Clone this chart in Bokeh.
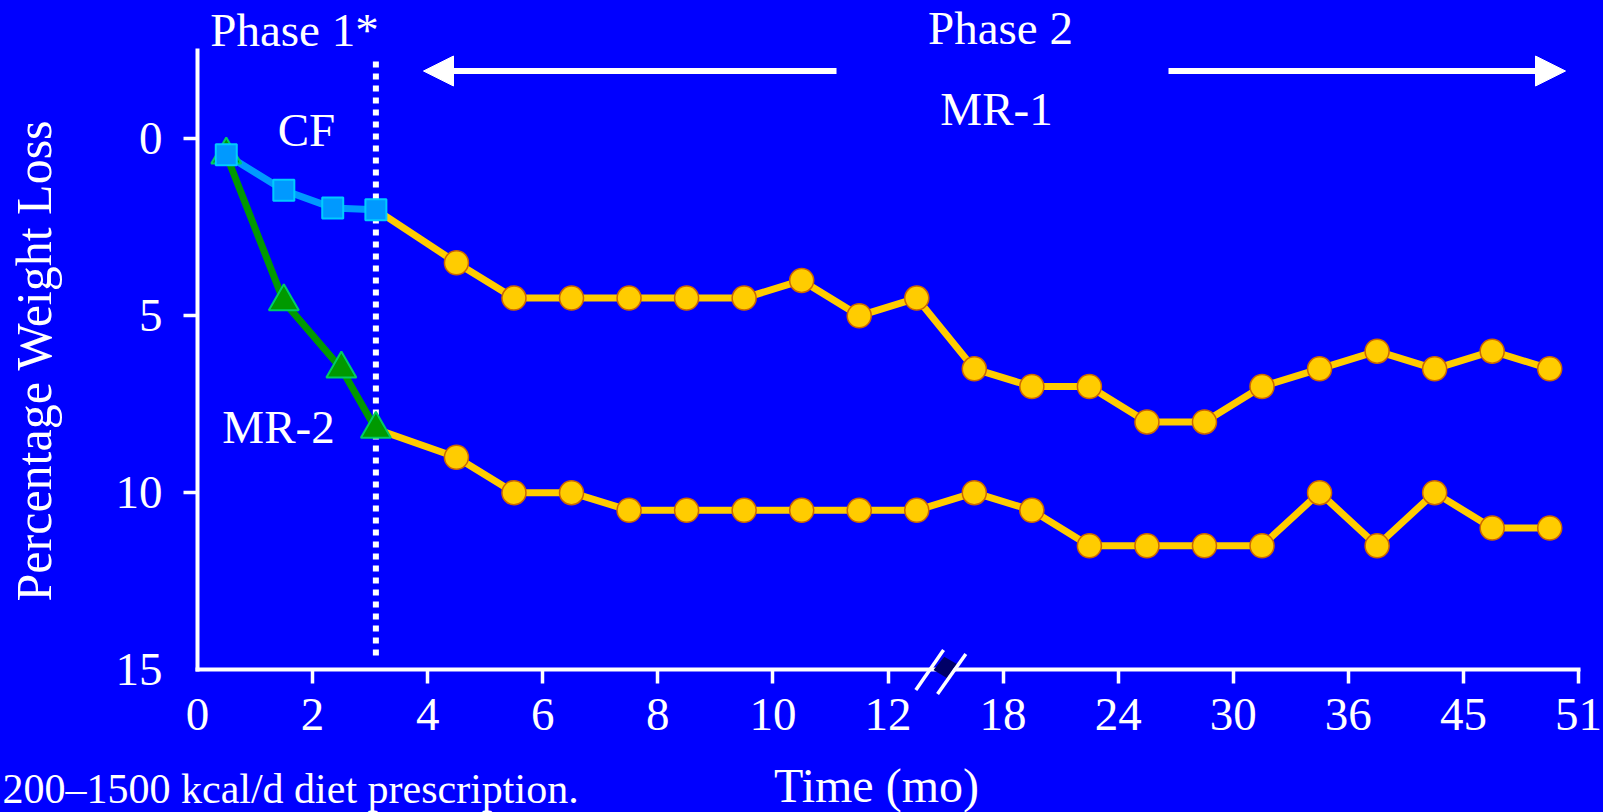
import math
from bokeh.plotting import figure
from bokeh.models import Range1d, FixedTicker, Label, Arrow, NormalHead, PolyAnnotation
from bokeh.embed import file_html
from bokeh.resources import INLINE

# ---------------- data ----------------
# x values are positions on the (broken) time axis
tick_positions = [0, 2, 4, 6, 8, 10, 12, 14, 16, 18, 20, 22, 24]
tick_labels = ["0", "2", "4", "6", "8", "10", "12", "18", "24", "30", "36", "45", "51"]
y_ticks = [0, 5, 10, 15]
y_tick_marks = [0, 5, 10]

cf_x = [0.5, 1.5, 2.35, 3.1]
cf_y = [0.45, 1.45, 1.95, 2.0]

mr2_p1_x = [0.5, 1.5, 2.5, 3.1]
mr2_p1_y = [0.45, 4.6, 6.5, 8.2]

phase2_x = [4.5, 5.5, 6.5, 7.5, 8.5, 9.5, 10.5, 11.5, 12.5, 13.5,
            14.5, 15.5, 16.5, 17.5, 18.5, 19.5, 20.5, 21.5, 22.5, 23.5]
mr1_p2_y = [3.5, 4.5, 4.5, 4.5, 4.5, 4.5, 4.0, 5.0, 4.5, 6.5,
            7.0, 7.0, 8.0, 8.0, 7.0, 6.5, 6.0, 6.5, 6.0, 6.5]
mr2_p2_y = [9.0, 10.0, 10.0, 10.5, 10.5, 10.5, 10.5, 10.5, 10.5, 10.0,
            10.5, 11.5, 11.5, 11.5, 11.5, 10.0, 11.5, 10.0, 11.0, 11.0]

axis_break = 13.0
phase_boundary = cf_x[-1]

# ---------------- layout helpers ----------------
BG = "#0000FF"
FONT = "Liberation Serif"
W, H = 1603, 812
X0, X1 = 0, 24            # data extent of the x axis
Y_TOP, Y_BOTTOM = -2.5, 15  # data extent of the y axis (inverted)
AX_LEFT, AX_RIGHT, AX_TOP, AX_BOTTOM = 197, 1578, 50, 669  # axis box in px
PX = (X1 - X0) / (AX_RIGHT - AX_LEFT)
PY = (Y_BOTTOM - Y_TOP) / (AX_BOTTOM - AX_TOP)


def dx(px):
    return X0 + (px - AX_LEFT) * PX


def dy(py):
    return Y_TOP + (py - AX_TOP) * PY


p = figure(width=W, height=H, output_backend="svg", toolbar_location=None,
           x_range=Range1d(dx(0), dx(W)), y_range=Range1d(dy(H), dy(0)),
           min_border=0)
p.background_fill_color = BG
p.border_fill_color = BG
p.outline_line_color = None
p.xgrid.visible = False
p.ygrid.visible = False

for ax in (p.xaxis[0], p.yaxis[0]):
    ax.axis_line_color = "white"
    ax.axis_line_width = 4
    ax.axis_line_cap = "square"
    ax.major_tick_in = 0
    ax.major_tick_out = 0
    ax.minor_tick_in = 0
    ax.minor_tick_out = 14
    ax.minor_tick_line_color = "white"
    ax.minor_tick_line_width = 3.5
    ax.major_label_text_color = "white"
    ax.major_label_text_font = FONT
    ax.major_label_text_font_size = "47px"

p.xaxis.fixed_location = Y_BOTTOM
p.xaxis.bounds = (X0, X1)
p.xaxis.ticker = FixedTicker(ticks=tick_positions, minor_ticks=tick_positions[1:])
p.xaxis.major_label_overrides = {t: l for t, l in zip(tick_positions, tick_labels)}
p.xaxis.major_label_standoff = 15

p.yaxis.fixed_location = X0
p.yaxis.bounds = (Y_TOP, Y_BOTTOM)
p.yaxis.ticker = FixedTicker(ticks=y_ticks, minor_ticks=y_tick_marks)
p.yaxis.major_label_standoff = 21

# phase boundary (dotted)
p.segment(x0=[phase_boundary], y0=[dy(61)], x1=[phase_boundary], y1=[dy(657)],
          line_color="white", line_width=6, line_dash="6 6", level="underlay")

# lines
p.line([cf_x[-1]] + phase2_x, [cf_y[-1]] + mr1_p2_y, line_color="#FFCC00", line_width=7)
p.line([mr2_p1_x[-1]] + phase2_x, [mr2_p1_y[-1]] + mr2_p2_y, line_color="#FFCC00", line_width=7)
p.line(mr2_p1_x, mr2_p1_y, line_color="#009900", line_width=7)
p.line(cf_x, cf_y, line_color="#0099FF", line_width=7)

# markers
p.scatter(phase2_x, mr1_p2_y, marker="circle", size=24, fill_color="#FFCC00",
          line_color="#CC6600", line_width=1.5)
p.scatter(phase2_x, mr2_p2_y, marker="circle", size=24, fill_color="#FFCC00",
          line_color="#CC6600", line_width=1.5)
p.scatter(mr2_p1_x, mr2_p1_y, marker="triangle", size=30, fill_color="#009900",
          line_color="#00CC66", line_width=2)
p.scatter(cf_x, cf_y, marker="square", size=21, fill_color="#0099FF",
          line_color="#00CCFF", line_width=2)

# phase-2 arrows
arrow_y = dy(70.5)
p.add_layout(Arrow(end=NormalHead(size=30, fill_color="white", line_color="white"),
                   x_start=dx(836), y_start=arrow_y, x_end=dx(423), y_end=arrow_y,
                   line_color="white", line_width=6))
p.add_layout(Arrow(end=NormalHead(size=30, fill_color="white", line_color="white"),
                   x_start=dx(1168), y_start=arrow_y, x_end=dx(1565), y_end=arrow_y,
                   line_color="white", line_width=6))

# axis break marks
bx, by = axis_break - 3 * PX, Y_BOTTOM
p.add_layout(PolyAnnotation(xs=[bx - 9 * PX, bx + 1.7 * PX, bx + 14.3 * PX, bx + 4.3 * PX],
                            ys=[by + 0.6 * PY, by - 12.7 * PY, by - 5.4 * PY, by + 8.6 * PY],
                            fill_color="#000066", fill_alpha=1, line_alpha=0))
for (ax0, ay0, ax1, ay1) in [(-26.7, 20.6, 1.0, -19.4), (-5.0, 24.6, 23.3, -15.4)]:
    p.add_layout(Arrow(end=None, start=None,
                       x_start=bx + ax0 * PX, y_start=by + ay0 * PY,
                       x_end=bx + ax1 * PX, y_end=by + ay1 * PY,
                       line_color="white", line_width=3.5))


# text annotations (px, py = wanted baseline position; the renderer places the
# alphabetic baseline about a third of an em lower, so compensate for that)
def lab(text, px, py, size=47, align="center", angle=0.0):
    shift = 0.34 * size
    if angle:
        px -= shift
    else:
        py -= shift
    p.add_layout(Label(x=dx(px), y=dy(py), text=text, angle=angle,
                       text_color="white", text_font=FONT, text_font_size=f"{size}px",
                       text_align=align, text_baseline="alphabetic"))


lab("Phase 1*", 294, 45)
lab("Phase 2", 1000, 43)
lab("MR-1", 996, 124)
lab("CF", 306, 145)
lab("MR-2", 278, 442)
lab("Percentage Weight Loss", 50, 360, size=50, angle=math.pi / 2)
lab("Time (mo)", 876, 801, size=48)
lab("200\u20131500 kcal/d diet prescription.", 2, 803, size=42, align="left")

html = file_html(p, INLINE, title="Percentage Weight Loss")
html = html.replace("<head>", "<head><style>html, body { background: #0000FF; }</style>", 1)
open("out.html", "w").write(html)
